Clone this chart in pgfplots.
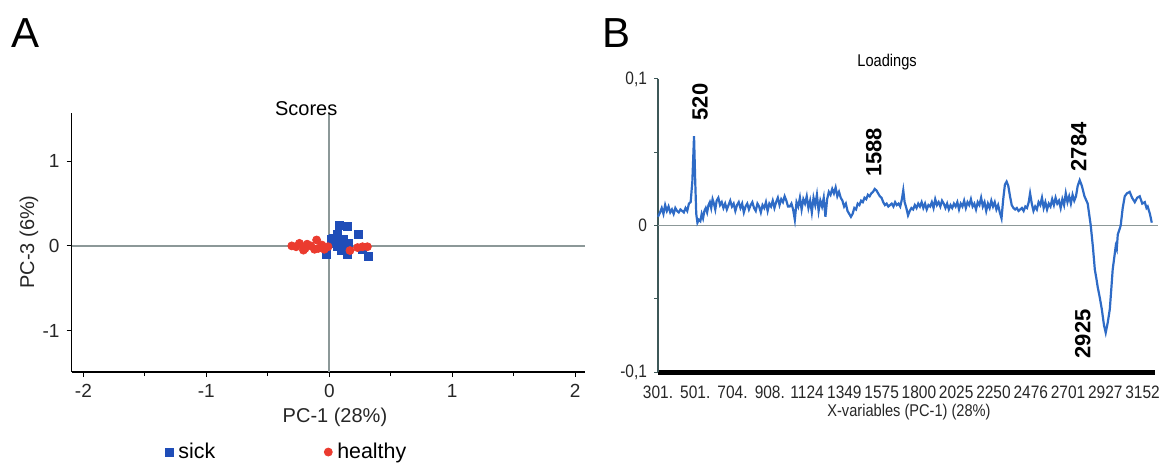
\documentclass[border=0pt]{standalone}
\usepackage{fontspec}
\setmainfont{Liberation Sans}
\newfontfamily\narrowfont[FakeStretch=0.86]{Liberation Sans}
\usepackage{pgfplots}
\pgfplotsset{compat=1.18}
\usepackage{xcolor}
\definecolor{sickblue}{HTML}{1F4DB8}
\definecolor{healthyred}{HTML}{EB3B2F}
\definecolor{loadblue}{HTML}{2E6BC6}
\definecolor{refgray}{HTML}{8C9898}
\definecolor{slate}{HTML}{3E5858}

\pgfplotstableread{
x y
0.084 0.24
0.146 0.228
0.239 0.138
0.037 0.09
0.115 0.079
0.068 -0.008
0.099 -0.055
0.146 -0.106
0.317 -0.126
-0.025 -0.106
0.021 0.071
0.155 0.03
0.27 -0.04
0.068 0.13
0.12 0.0
0.05 0.03
}\sick

\pgfplotstableread{
x y
-0.305 0.0
-0.243 0.03
-0.197 -0.03
-0.15 0.0
-0.103 0.07
-0.09 -0.03
-0.04 -0.04
-0.12 -0.04
-0.18 0.02
-0.27 -0.01
-0.21 -0.05
-0.01 -0.01
0.168 -0.055
0.27 -0.01
0.31 -0.01
0.23 -0.02
-0.06 0.01
}\healthy

\pgfplotstableread{
x y
301 0.006
313 0.009
323 0.012
333 0.008
343 0.014
353 0.010
363 0.013
373 0.009
383 0.011
393 0.008
403 0.012
413 0.010
423 0.009
433 0.011
443 0.010
453 0.009
463 0.012
473 0.010
483 0.015
493 0.016
503 0.030
513 0.061
520 0.030
526 0.008
533 0.002
541 0.004
550 0.003
558 0.008
566 0.005
574 0.010
582 0.012
590 0.009
598 0.014
606 0.016
614 0.012
622 0.018
630 0.015
638 0.011
646 0.017
656 0.019
666 0.014
676 0.016
686 0.012
696 0.015
706 0.011
716 0.014
726 0.017
736 0.013
746 0.015
756 0.010
766 0.014
776 0.016
786 0.012
796 0.015
806 0.009
816 0.013
826 0.015
836 0.011
846 0.014
856 0.016
866 0.012
876 0.010
886 0.015
896 0.013
906 0.009
916 0.014
926 0.012
936 0.016
946 0.010
956 0.015
966 0.013
976 0.017
986 0.012
996 0.016
1006 0.019
1016 0.014
1026 0.018
1036 0.016
1046 0.020
1056 0.017
1066 0.013
1076 0.013
1086 0.015
1096 0.011
1106 0.004
1116 0.016
1126 0.013
1136 0.019
1146 0.011
1156 0.018
1166 0.015
1176 0.020
1186 0.012
1196 0.017
1206 0.009
1216 0.019
1226 0.014
1236 0.021
1246 0.010
1256 0.017
1266 0.013
1276 0.019
1286 0.006
1296 0.018
1306 0.023
1316 0.021
1326 0.025
1336 0.022
1346 0.026
1356 0.020
1366 0.023
1376 0.019
1386 0.017
1396 0.013
1406 0.015
1416 0.010
1426 0.008
1436 0.006
1446 0.008
1456 0.012
1466 0.011
1476 0.015
1486 0.014
1496 0.017
1506 0.016
1516 0.019
1526 0.018
1536 0.021
1546 0.020
1556 0.022
1566 0.023
1576 0.025
1586 0.024
1596 0.022
1606 0.020
1616 0.019
1626 0.016
1636 0.014
1646 0.015
1656 0.013
1666 0.014
1676 0.015
1686 0.013
1696 0.016
1706 0.014
1716 0.015
1726 0.013
1736 0.018
1744 0.024
1752 0.016
1762 0.012
1772 0.007
1782 0.010
1792 0.012
1802 0.011
1812 0.014
1822 0.012
1832 0.015
1842 0.013
1852 0.016
1862 0.012
1872 0.015
1882 0.011
1892 0.014
1902 0.013
1912 0.016
1922 0.012
1932 0.018
1942 0.014
1952 0.016
1962 0.013
1972 0.017
1982 0.015
1992 0.012
2002 0.015
2012 0.011
2022 0.014
2032 0.012
2042 0.015
2052 0.013
2062 0.016
2072 0.011
2082 0.015
2092 0.013
2102 0.017
2112 0.012
2122 0.016
2132 0.014
2142 0.018
2152 0.013
2162 0.015
2172 0.011
2182 0.016
2192 0.014
2202 0.019
2212 0.013
2222 0.016
2232 0.010
2242 0.015
2252 0.012
2262 0.017
2272 0.013
2282 0.016
2292 0.011
2302 0.014
2312 0.009
2322 0.005
2332 0.018
2342 0.028
2352 0.030
2362 0.027
2372 0.020
2382 0.014
2392 0.012
2402 0.011
2412 0.012
2422 0.010
2432 0.011
2442 0.012
2452 0.010
2462 0.013
2472 0.012
2482 0.016
2490 0.022
2500 0.015
2510 0.010
2520 0.013
2530 0.011
2540 0.016
2550 0.014
2560 0.019
2570 0.012
2580 0.016
2590 0.011
2600 0.015
2610 0.013
2620 0.018
2630 0.014
2640 0.019
2650 0.015
2660 0.017
2670 0.012
2680 0.018
2690 0.014
2700 0.022
2710 0.016
2720 0.020
2730 0.015
2740 0.021
2750 0.017
2760 0.020
2770 0.027
2782 0.031
2795 0.027
2810 0.020
2829 0.015
2847 0.000
2860 -0.015
2871 -0.030
2880 -0.036
2888 -0.042
2900 -0.049
2912 -0.057
2925 -0.068
2935 -0.073
2947 -0.066
2959 -0.057
2968 -0.043
2976 -0.030
2985 -0.022
2994 -0.014
3000 -0.016
3006 -0.006
3015 -0.003
3023 0.000
3035 0.012
3047 0.020
3060 0.022
3076 0.023
3090 0.019
3106 0.016
3120 0.019
3135 0.020
3150 0.015
3165 0.016
3175 0.012
3182 0.013
3195 0.008
3206 0.002
}\loadings

\begin{document}
\begin{tikzpicture}
\path[use as bounding box] (0,0) rectangle (581.5pt,231.5pt);

% panel letters
\node[anchor=base west, inner sep=0, font=\fontsize{21}{21}\selectfont] at (5.5pt,208pt) {A};
\node[anchor=base west, inner sep=0, font=\fontsize{21}{21}\selectfont] at (301pt,208pt) {B};

% ---- A: scores
\begin{axis}[
  at={(35.8pt,45.5pt)}, anchor=south west,
  scale only axis, width=256.7pt, height=129.5pt,
  xmin=-2.096, xmax=2.08, ymin=-1.49, ymax=1.57,
  axis x line=bottom, axis y line=left,
  axis line style={-, black, line width=0.8pt},
  xtick={-2,-1,0,1,2}, minor xtick={-1.5,-0.5,0.5,1.5},
  ytick={-1,0,1},
  tick align=outside, major tick length=2.5pt, minor tick length=2pt,
  tick style={black, line width=0.6pt},
  /pgf/number format/assume math mode=true,
  ticklabel style={font=\fontsize{9.5}{10}\selectfont, text=black!85},
  title={Scores},
  title style={at={(axis description cs:0.457,1)}, anchor=base, yshift=-7pt,
    font=\fontsize{10}{11}\selectfont},
  xlabel={PC-1 (28\%)},
  xlabel style={at={(axis description cs:0.513,0)}, anchor=center, yshift=-22.5pt,
    font=\fontsize{10}{11}\selectfont, text=black!85},
  ylabel={PC-3 (6\%)},
  ylabel style={at={(axis description cs:-0.083,0.502)}, anchor=center,
    font=\fontsize{10}{11}\selectfont, text=black!85},
  legend columns=2,
  legend image code/.code={\draw[#1,mark repeat=2,mark phase=2] plot coordinates {(0pt,0pt) (2.5pt,0pt) (5pt,0pt)};},
  legend style={at={(axis description cs:0.182,-0.309)}, anchor=west, draw=none, fill=none,
    font=\fontsize{10.7}{11}\selectfont, inner xsep=0pt, inner ysep=0pt,
    /tikz/every even column/.append style={column sep=52pt},
    nodes={inner xsep=2.5pt}},
  clip=false,
]
\addplot[refgray, line width=0.8pt, forget plot] coordinates {(-2.096,0) (2.08,0)};
\addplot[refgray, line width=0.8pt, forget plot] coordinates {(0,-1.49) (0,1.57)};
\addplot[only marks, mark=square*, mark size=2pt, color=sickblue] table[x=x,y=y] {\sick};
\addlegendentry{sick}
\addplot[only marks, mark=*, mark size=2pt, color=healthyred] table[x=x,y=y] {\healthy};
\addlegendentry{healthy}
\end{axis}

% ---- B: loadings
\begin{axis}[
  at={(329pt,45.35pt)}, anchor=south west,
  scale only axis, width=248.5pt, height=146.7pt,
  xmin=301, xmax=3225, ymin=-0.1, ymax=0.1,
  axis x line=bottom, axis y line=left,
  x axis line style={-, black, line width=2.6pt},
  y axis line style={-, slate, line width=0.8pt},
  xtick={301,520.3,739.6,958.9,1178.2,1397.5,1616.8,1836.1,2055.4,2274.7,2494,2713.3,2932.6,3151.9},
  xticklabels={301.,501.,704.,908.,1124,1349,1575,1800,2025,2250,2476,2701,2927,3152},
  x tick style={draw=none},
  ytick={-0.1,-0.05,0,0.05,0.1},
  yticklabels={{-0,1},{},{0},{},{0,1}},
  y tick style={slate, line width=0.5pt},
  tick align=outside, major tick length=2pt,
  xticklabel style={font=\narrowfont\fontsize{9}{10}\selectfont, text=black!85, yshift=-1.5pt},
  yticklabel style={font=\narrowfont\fontsize{9}{10}\selectfont, text=black!85},
  title={Loadings},
  title style={at={(axis description cs:0.461,1)}, anchor=center, yshift=2.5pt,
    font=\narrowfont\fontsize{8.5}{9}\selectfont},
  xlabel={X-variables (PC-1) (28\%)},
  xlabel style={at={(axis description cs:0.505,0)}, anchor=center, yshift=-19.9pt,
    font=\narrowfont\fontsize{8.5}{9}\selectfont, text=black!85},
  clip=false,
]
\addplot[refgray, line width=0.7pt] coordinates {(301,0) (3245,0)};
\addplot[loadblue, line width=1.1pt] table[x=x,y=y] {\loadings};
\node[rotate=90, font=\bfseries\fontsize{11}{11}\selectfont] at (axis cs:548,0.0843) {520};
\node[rotate=90, font=\bfseries\fontsize{11}{11}\selectfont] at (axis cs:1571,0.050) {1588};
\node[rotate=90, font=\bfseries\fontsize{11}{11}\selectfont] at (axis cs:2777,0.0536) {2784};
\node[rotate=90, font=\bfseries\fontsize{11}{11}\selectfont] at (axis cs:2800,-0.0738) {2925};
\end{axis}
\end{tikzpicture}
\end{document}
